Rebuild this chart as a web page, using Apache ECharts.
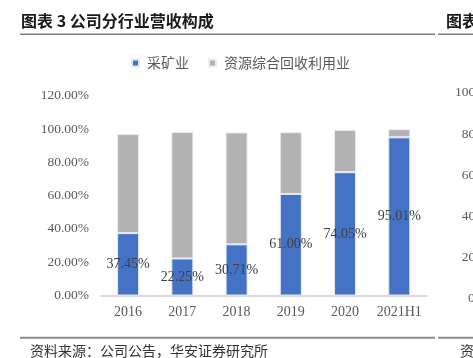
<!DOCTYPE html>
<html>
<head>
<meta charset="utf-8">
<script src="https://cdn.jsdelivr.net/npm/echarts@6/dist/echarts.min.js"></script>
<style>
html,body{margin:0;padding:0;background:#fff;}
#c{width:473px;height:358px;}
</style>
</head>
<body>
<div id="c"></div>
<script>
var categories = ['2016', '2017', '2018', '2019', '2020', '2021H1'];
var miningName = '采矿业';
var resourceName = '资源综合回收利用业';
var mining = [37.45, 22.25, 30.71, 61.00, 74.05, 95.01];
var resource = [59.5, 76.0, 67.2, 37.1, 25.4, 4.9];
var yTicks = [0, 20, 40, 60, 80, 100, 120];
var titleText = '图表 3 公司分行业营收构成';
var sourceText = '资料来源：公司公告，华安证券研究所';
var sideTicks = ['100%', '80%', '60%', '40%', '20%', '0%'];

var serif = '"Liberation Serif", "Times New Roman", serif';
var cjk = '"Noto Sans CJK SC", sans-serif';

var chart = echarts.init(document.getElementById('c'), null, {renderer: 'canvas'});

var sideX = [455, 461.7, 461.7, 461.7, 461.7, 468];
var sideY = [92.7, 134, 175, 216.7, 257.7, 298.3];
var graphics = [
  {type: 'text', left: 21, top: 13, style: {text: titleText, font: 'bold 16px ' + cjk, fill: '#1a1a1a'}},
  {type: 'text', left: 446, top: 13, style: {text: '图表', font: 'bold 16px ' + cjk, fill: '#1a1a1a'}},
  {type: 'rect', shape: {x: 20, y: 33.5, width: 415, height: 1.5}, style: {fill: '#7f7f7f'}},
  {type: 'rect', shape: {x: 438, y: 33.5, width: 40, height: 1.5}, style: {fill: '#7f7f7f'}},
  {type: 'rect', shape: {x: 20, y: 336.8, width: 415, height: 2}, style: {fill: '#8c8c8c'}},
  {type: 'rect', shape: {x: 438, y: 336.8, width: 40, height: 2}, style: {fill: '#8c8c8c'}},
  {type: 'text', left: 30, top: 344, style: {text: sourceText, font: '14px ' + cjk, fill: '#333'}},
  {type: 'text', left: 460, top: 344, style: {text: '资', font: '14px ' + cjk, fill: '#333'}}
];
sideTicks.forEach(function (t, i) {
  graphics.push({type: 'text', x: sideX[i], y: sideY[i], style: {text: t, font: '13.5px ' + serif, fill: '#595959', textVerticalAlign: 'middle'}});
});

chart.setOption({
  animation: false,
  backgroundColor: '#fff',
  grid: {left: 101, right: 46.6, top: 95.7, bottom: 62.5, containLabel: false},
  legend: {
    left: 126, top: 51,
    itemWidth: 7, itemHeight: 7, itemGap: 19,
    icon: 'rect',
    textStyle: {fontFamily: cjk, fontSize: 14, color: '#595959', padding: [0, 0, 0, 3]},
    data: [miningName, resourceName]
  },
  xAxis: {
    type: 'category',
    data: categories,
    axisLine: {show: true, lineStyle: {color: '#d9d9d9', width: 2}},
    axisTick: {show: false},
    axisLabel: {fontFamily: serif, fontSize: 14, color: '#595959', margin: 10, interval: 0}
  },
  yAxis: {
    type: 'value',
    min: 0, max: 120, interval: 20,
    axisLine: {show: false},
    axisTick: {show: false},
    splitLine: {show: false},
    axisLabel: {
      fontFamily: serif, fontSize: 13.5, color: '#595959', margin: 12,
      formatter: function (v) { return v.toFixed(2) + '%'; }
    }
  },
  series: [
    {
      name: miningName, type: 'bar', stack: 'total', barWidth: 22,
      data: mining,
      itemStyle: {color: '#4472c4', borderColor: '#e4e8f2', borderWidth: 1},
      label: {
        show: true, position: 'inside',
        fontFamily: serif, fontSize: 14, color: '#404040',
        formatter: function (p) { return p.value.toFixed(2) + '%'; }
      }
    },
    {
      name: resourceName, type: 'bar', stack: 'total', barWidth: 22,
      data: resource,
      itemStyle: {color: '#b2b2b2', borderColor: '#ececec', borderWidth: 1}
    }
  ],
  graphic: graphics
});
</script>
</body>
</html>
